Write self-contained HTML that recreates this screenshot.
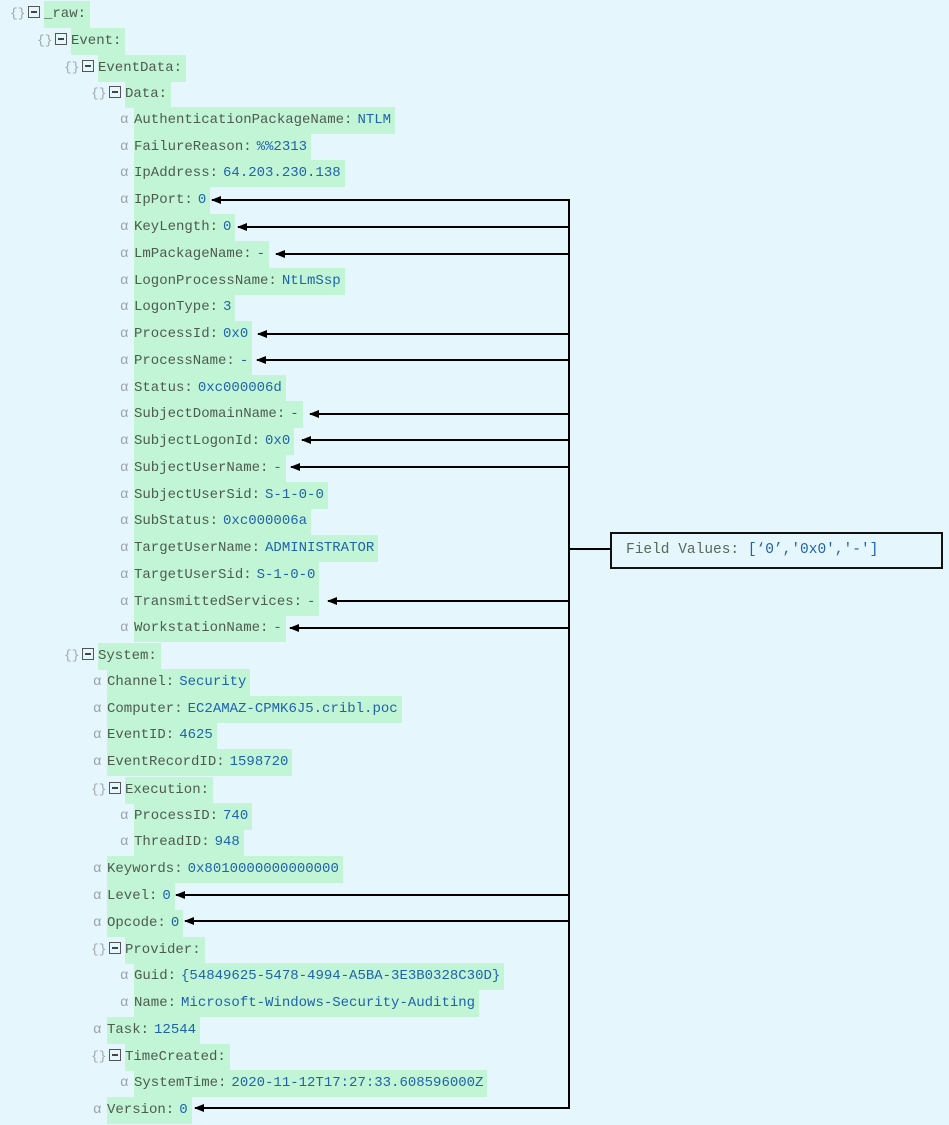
<!DOCTYPE html>
<html><head><meta charset="utf-8"><style>
body{margin:0;width:949px;height:1125px;background:#e5f6fd;position:relative;overflow:hidden;font-family:"Liberation Mono",monospace;font-size:14px}
.r{position:absolute;height:27px;line-height:27px;white-space:nowrap}
.r i{font-style:normal;color:#9aa3a8;display:inline-block;width:14px}
.r .o{color:#a0a6aa;display:inline-block;width:18px;font-size:13px}
.r .bx{display:inline-block;width:10px;height:10px;border:1.3px solid #555;position:relative;vertical-align:middle;margin-top:-3px;margin-right:4px}
.r .bx:after{content:"";position:absolute;left:2px;right:2px;top:4.5px;height:1.3px;background:#444}
.h{display:inline-block;background:#c2f5d6;padding-right:4px;color:#4d5b4f;height:27px}
.h b{font-weight:normal;color:#1f62ad;margin-left:5px}
svg{position:absolute;left:0;top:0}
.box{position:absolute;left:610px;top:532px;width:315px;height:33px;border:2px solid #111;line-height:33px;padding-left:14px;box-sizing:content-box;color:#58695b;font-size:14.5px;white-space:nowrap}
.box b{font-weight:normal;color:#1f62ad}
</style></head><body>
<div class="r" style="top:0px;left:10px"><span class="o">{}</span><span class="bx"></span><span class="h">_raw:</span></div>
<div class="r" style="top:27px;left:37px"><span class="o">{}</span><span class="bx"></span><span class="h">Event:</span></div>
<div class="r" style="top:54px;left:64px"><span class="o">{}</span><span class="bx"></span><span class="h">EventData:</span></div>
<div class="r" style="top:80px;left:91px"><span class="o">{}</span><span class="bx"></span><span class="h">Data:</span></div>
<div class="r" style="top:107px;left:120px"><i>α</i><span class="h">AuthenticationPackageName:<b>NTLM</b></span></div>
<div class="r" style="top:134px;left:120px"><i>α</i><span class="h">FailureReason:<b>%%2313</b></span></div>
<div class="r" style="top:160px;left:120px"><i>α</i><span class="h">IpAddress:<b>64.203.230.138</b></span></div>
<div class="r" style="top:187px;left:120px"><i>α</i><span class="h">IpPort:<b>0</b></span></div>
<div class="r" style="top:214px;left:120px"><i>α</i><span class="h">KeyLength:<b>0</b></span></div>
<div class="r" style="top:241px;left:120px"><i>α</i><span class="h">LmPackageName:<b>-</b></span></div>
<div class="r" style="top:268px;left:120px"><i>α</i><span class="h">LogonProcessName:<b>NtLmSsp</b></span></div>
<div class="r" style="top:294px;left:120px"><i>α</i><span class="h">LogonType:<b>3</b></span></div>
<div class="r" style="top:321px;left:120px"><i>α</i><span class="h">ProcessId:<b>0x0</b></span></div>
<div class="r" style="top:348px;left:120px"><i>α</i><span class="h">ProcessName:<b>-</b></span></div>
<div class="r" style="top:375px;left:120px"><i>α</i><span class="h">Status:<b>0xc000006d</b></span></div>
<div class="r" style="top:401px;left:120px"><i>α</i><span class="h">SubjectDomainName:<b>-</b></span></div>
<div class="r" style="top:428px;left:120px"><i>α</i><span class="h">SubjectLogonId:<b>0x0</b></span></div>
<div class="r" style="top:455px;left:120px"><i>α</i><span class="h">SubjectUserName:<b>-</b></span></div>
<div class="r" style="top:482px;left:120px"><i>α</i><span class="h">SubjectUserSid:<b>S-1-0-0</b></span></div>
<div class="r" style="top:508px;left:120px"><i>α</i><span class="h">SubStatus:<b>0xc000006a</b></span></div>
<div class="r" style="top:535px;left:120px"><i>α</i><span class="h">TargetUserName:<b>ADMINISTRATOR</b></span></div>
<div class="r" style="top:562px;left:120px"><i>α</i><span class="h">TargetUserSid:<b>S-1-0-0</b></span></div>
<div class="r" style="top:589px;left:120px"><i>α</i><span class="h">TransmittedServices:<b>-</b></span></div>
<div class="r" style="top:615px;left:120px"><i>α</i><span class="h">WorkstationName:<b>-</b></span></div>
<div class="r" style="top:642px;left:64px"><span class="o">{}</span><span class="bx"></span><span class="h">System:</span></div>
<div class="r" style="top:669px;left:93px"><i>α</i><span class="h">Channel:<b>Security</b></span></div>
<div class="r" style="top:696px;left:93px"><i>α</i><span class="h">Computer:<b>EC2AMAZ-CPMK6J5.cribl.poc</b></span></div>
<div class="r" style="top:722px;left:93px"><i>α</i><span class="h">EventID:<b>4625</b></span></div>
<div class="r" style="top:749px;left:93px"><i>α</i><span class="h">EventRecordID:<b>1598720</b></span></div>
<div class="r" style="top:776px;left:91px"><span class="o">{}</span><span class="bx"></span><span class="h">Execution:</span></div>
<div class="r" style="top:803px;left:120px"><i>α</i><span class="h">ProcessID:<b>740</b></span></div>
<div class="r" style="top:829px;left:120px"><i>α</i><span class="h">ThreadID:<b>948</b></span></div>
<div class="r" style="top:856px;left:93px"><i>α</i><span class="h">Keywords:<b>0x8010000000000000</b></span></div>
<div class="r" style="top:883px;left:93px"><i>α</i><span class="h">Level:<b>0</b></span></div>
<div class="r" style="top:910px;left:93px"><i>α</i><span class="h">Opcode:<b>0</b></span></div>
<div class="r" style="top:936px;left:91px"><span class="o">{}</span><span class="bx"></span><span class="h">Provider:</span></div>
<div class="r" style="top:963px;left:120px"><i>α</i><span class="h">Guid:<b>{54849625-5478-4994-A5BA-3E3B0328C30D}</b></span></div>
<div class="r" style="top:990px;left:120px"><i>α</i><span class="h">Name:<b>Microsoft-Windows-Security-Auditing</b></span></div>
<div class="r" style="top:1017px;left:93px"><i>α</i><span class="h">Task:<b>12544</b></span></div>
<div class="r" style="top:1043px;left:91px"><span class="o">{}</span><span class="bx"></span><span class="h">TimeCreated:</span></div>
<div class="r" style="top:1070px;left:120px"><i>α</i><span class="h">SystemTime:<b>2020-11-12T17:27:33.608596000Z</b></span></div>
<div class="r" style="top:1097px;left:93px"><i>α</i><span class="h">Version:<b>0</b></span></div>

<svg width="949" height="1125">
<defs><marker id="a" markerWidth="10" markerHeight="8" refX="9" refY="4" orient="auto" markerUnits="userSpaceOnUse"><path d="M0,0 L10,4 L0,8 z" fill="#000"/></marker></defs>
<g stroke="#000" stroke-width="2" fill="none">
<line x1="569" y1="199" x2="569" y2="1109"/>
<line x1="569" y1="549" x2="610" y2="549"/>
<line x1="569" y1="200" x2="212" y2="200" marker-end="url(#a)"/>
<line x1="569" y1="227" x2="238" y2="227" marker-end="url(#a)"/>
<line x1="569" y1="254" x2="276" y2="254" marker-end="url(#a)"/>
<line x1="569" y1="334" x2="258" y2="334" marker-end="url(#a)"/>
<line x1="569" y1="360" x2="257" y2="360" marker-end="url(#a)"/>
<line x1="569" y1="414" x2="310" y2="414" marker-end="url(#a)"/>
<line x1="569" y1="440" x2="302" y2="440" marker-end="url(#a)"/>
<line x1="569" y1="467" x2="291" y2="467" marker-end="url(#a)"/>
<line x1="569" y1="601" x2="328" y2="601" marker-end="url(#a)"/>
<line x1="569" y1="628" x2="290" y2="628" marker-end="url(#a)"/>
<line x1="569" y1="895" x2="176" y2="895" marker-end="url(#a)"/>
<line x1="569" y1="921" x2="185" y2="921" marker-end="url(#a)"/>
<line x1="569" y1="1108" x2="195" y2="1108" marker-end="url(#a)"/>
</g></svg>
<div class="box">Field Values: <b>[‘0’,'0x0','-']</b></div>
</body></html>
